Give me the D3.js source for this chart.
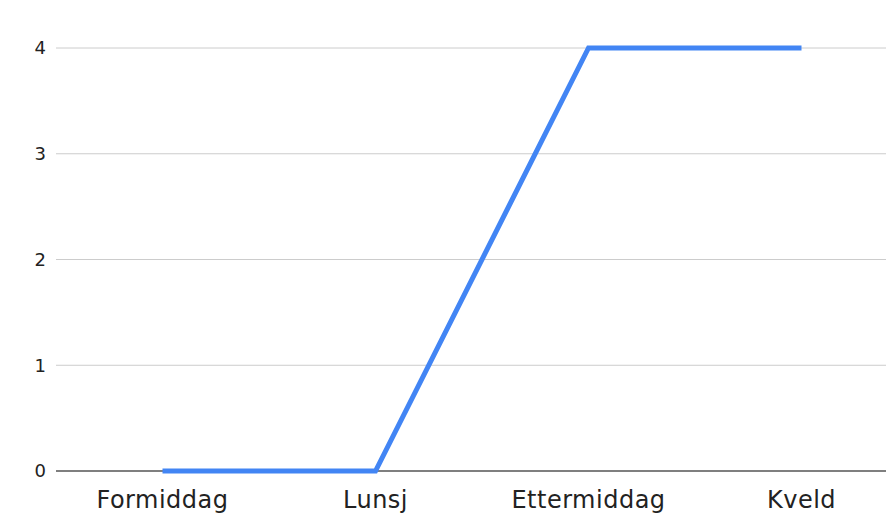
<!DOCTYPE html>
<html>
<head>
<meta charset="utf-8">
<script src="https://cdn.jsdelivr.net/npm/d3@7"></script>
<style>
  html, body { margin: 0; padding: 0; background: #fff; }
  svg { display: block; }
</style>
</head>
<body>
<div id="chart"></div>
<script>
// data
const categories = ["Formiddag", "Lunsj", "Ettermiddag", "Kveld"];
const values = [0, 0, 4, 4];
const yTicks = [0, 1, 2, 3, 4];

const W = 886, H = 516;
const plotLeft = 56, plotRight = 908; // plot runs past the right edge
const yTop = 48, yBottom = 471;

const svg = d3.select("#chart")
    .append("svg")
    .attr("width", W)
    .attr("height", H)
    .style("font-family", "'DejaVu Sans', sans-serif");

const x = d3.scaleBand().domain(categories).range([plotLeft, plotRight]);
const y = d3.scaleLinear().domain([0, 4]).range([yBottom, yTop]);

// grid lines
svg.append("g")
    .selectAll("line")
    .data(yTicks.filter(d => d !== 0))
    .enter()
    .append("line")
    .attr("x1", plotLeft)
    .attr("x2", W)
    .attr("y1", d => y(d))
    .attr("y2", d => y(d))
    .attr("stroke", "#cccccc")
    .attr("stroke-width", 1);

// y tick labels
svg.append("g")
    .selectAll("text")
    .data(yTicks)
    .enter()
    .append("text")
    .attr("x", 46)
    .attr("y", d => y(d))
    .attr("dy", "0.36em")
    .attr("text-anchor", "end")
    .style("font-size", "18px")
    .style("fill", "#222")
    .text(d => d);

// baseline
svg.append("line")
    .attr("x1", plotLeft)
    .attr("x2", W)
    .attr("y1", y(0))
    .attr("y2", y(0))
    .attr("stroke", "#555")
    .attr("stroke-width", 1.5);

// x labels
svg.append("g")
    .selectAll("text")
    .data(categories)
    .enter()
    .append("text")
    .attr("x", d => x(d) + x.bandwidth() / 2)
    .attr("y", 508)
    .attr("text-anchor", "middle")
    .style("font-size", "24px")
    .style("letter-spacing", "0.5px")
    .style("fill", "#222")
    .text(d => d);

// the line
const line = d3.line()
    .x((d, i) => x(categories[i]) + x.bandwidth() / 2)
    .y(d => y(d));

svg.append("path")
    .datum(values)
    .attr("d", line)
    .attr("fill", "none")
    .attr("stroke", "#4285f4")
    .attr("stroke-width", 5)
    .attr("stroke-linejoin", "miter");
</script>
</body>
</html>
